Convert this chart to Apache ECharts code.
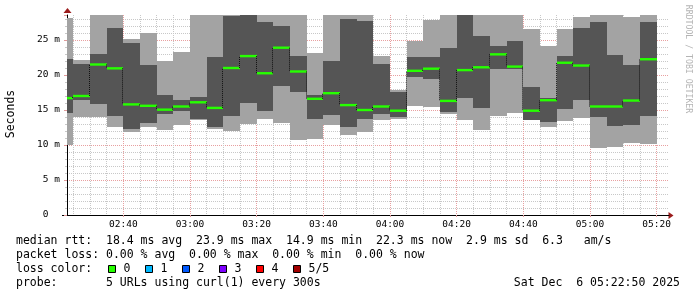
<!DOCTYPE html>
<html><head><meta charset="utf-8">
<script src="https://cdn.jsdelivr.net/npm/echarts@6/dist/echarts.min.js"></script>
<style>html,body{margin:0;padding:0;background:#fff}#c{width:697px;height:297px}</style>
</head><body><div id="c"></div>
<script>
// ---- data ----
const stepEnd = ["02:25","02:30","02:35","02:40","02:45","02:50","02:55","03:00","03:05","03:10",
  "03:15","03:20","03:25","03:30","03:35","03:40","03:45","03:50","03:55","04:00",
  "04:05","04:10","04:15","04:20","04:25","04:30","04:35","04:40","04:45","04:50",
  "04:55","05:00","05:05","05:10","05:15","05:20"];
const pingMin = [10.0,14.05,14.05,12.6,11.9,12.6,12.1,12.9,13.6,12.3,
  12.05,13.0,13.7,13.1,10.7,10.8,12.9,11.45,11.9,13.5,
  13.75,15.6,15.4,14.4,13.55,12.15,14.15,14.6,13.55,12.6,
  13.45,13.9,9.5,9.75,10.3,10.15];
const ping2 = [14.6,16.4,15.9,14.1,12.3,13.1,14.4,14.9,13.7,12.6,
  14.1,15.95,14.9,18.4,17.5,13.7,14.3,12.6,13.65,14.4,
  13.95,19.75,19.4,14.7,16.75,15.3,20.8,20.9,13.6,13.3,
  15.15,16.4,14.05,12.75,12.9,14.15];
const median = [16.7,17.0,21.5,20.95,15.8,15.6,15.05,15.5,16.1,15.3,
  21.0,22.7,20.25,23.9,20.5,16.6,17.4,15.7,15.0,15.5,
  14.9,20.6,20.9,16.3,20.7,21.1,22.95,21.2,14.9,16.4,
  21.75,21.35,15.5,15.5,16.35,22.25];
const ping4 = [22.3,21.6,23.0,26.7,24.6,21.4,17.1,16.4,16.8,22.6,
  28.4,29.5,27.5,27.05,22.7,17.1,22.0,28.0,27.7,21.6,
  17.5,22.6,22.6,23.9,29.5,25.6,24.15,24.85,18.3,16.75,
  22.7,26.75,27.6,22.9,21.4,27.6];
const pingMax = [28.2,22.1,30,30,25.1,26.0,22.0,23.3,30,30,
  30,31,30,30,30,23.2,30,30,30,22.7,
  17.9,24.9,27.9,30,31,30,30,30,26.6,24.2,
  26.6,28.25,30,30,28.3,30];
const xTickLabels = ["02:40","03:00","03:20","03:40","04:00","04:20","04:40","05:00","05:20"];
const yTickLabels = ["0  ","5 m","10 m","15 m","20 m","25 m"];
const lossLabels = ["0","1","2","3","4","5/5"];
const lossColors = ["#26ff00","#00b8ff","#0059ff","#7e00ff","#ff0000","#a10000"];
const legendLines = [
  "median rtt:  18.4 ms avg  23.9 ms max  14.9 ms min  22.3 ms now  2.9 ms sd  6.3   am/s",
  "packet loss: 0.00 % avg  0.00 % max  0.00 % min  0.00 % now",
  "loss color:",
  "probe:       5 URLs using curl(1) every 300s"
];
const dateText = "Sat Dec  6 05:22:50 2025";

// ---- helpers ----
const MONO = "'DejaVu Sans Mono', monospace";
const toMin = s => { const [h, m] = s.split(':').map(Number); return h * 60 + m; };
const STEP = 5;
const rows = stepEnd.map((t, i) => [toMin(t), pingMin[i], ping2[i], median[i], ping4[i], pingMax[i],
  i > 0 ? median[i - 1] : median[i]]);

function clip(r, cs) {
  return echarts.graphic.clipRectByRect(r, {x: cs.x, y: cs.y, width: cs.width, height: cs.height});
}
function bandRect(api, cs, t0, t1, lo, hi) {
  const a = api.coord([t0, hi]), b = api.coord([t1, lo]);
  const x0 = Math.round(a[0]), x1 = Math.round(b[0]);
  const y0 = Math.round(a[1]), y1 = Math.round(b[1]);
  return clip({x: x0, y: y0, width: x1 - x0, height: y1 - y0}, cs);
}
function renderSmoke(params, api) {
  const cs = params.coordSys;
  const t1 = api.value(0), t0 = t1 - STEP;
  const outer = bandRect(api, cs, t0, t1, api.value(1), api.value(5));
  const inner = bandRect(api, cs, t0, t1, api.value(2), api.value(4));
  const ch = [];
  if (outer) ch.push({type: 'rect', shape: outer, style: {fill: '#a3a3a3'}});
  if (inner) ch.push({type: 'rect', shape: inner, style: {fill: '#555555'}});
  return {type: 'group', children: ch};
}
function renderMedian(params, api) {
  const cs = params.coordSys;
  const t1 = api.value(0), t0 = t1 - STEP;
  const a = api.coord([t0, api.value(3)]), b = api.coord([t1, api.value(3)]);
  const p = api.coord([t0, api.value(6)]);
  const x0 = Math.max(Math.round(a[0]), cs.x), x1 = Math.round(b[0]);
  const ch = [];
  if (params.dataIndex > 0) {
    ch.push({type: 'line', shape: {x1: x0 - 0.5, y1: p[1], x2: x0 - 0.5, y2: a[1]},
      style: {stroke: '#111', lineWidth: 1, lineDash: [1, 1]}});
  }
  ch.push({type: 'rect', shape: {x: x0, y: a[1] - 1.2, width: x1 - x0, height: 2.4},
    style: {fill: lossColors[0]}});
  return {type: 'group', children: ch};
}

const fmtX = v => {
  const k = (v - 160) / 20;
  return Number.isInteger(k) && k >= 0 && k < xTickLabels.length ? xTickLabels[k] : '';
};
const fmtY = v => {
  const k = v / 5;
  return Number.isInteger(k) && k < yTickLabels.length ? yTickLabels[k] : '';
};

const graphics = [];
graphics.push({type: 'text', x: 11, y: 114, rotation: Math.PI / 2,
  style: {text: 'Seconds', fill: '#000', fontSize: 11.5, fontFamily: MONO, align: 'center', verticalAlign: 'middle'}});
graphics.push({type: 'text', x: 688, y: 59, rotation: -Math.PI / 2,
  style: {text: 'RRDTOOL / TOBI OETIKER', fill: '#b4b4b4', fontSize: 8.2, fontFamily: MONO, align: 'center', verticalAlign: 'middle'}});
const lineY = [241, 255, 269, 283];
legendLines.forEach((s, i) => graphics.push({type: 'text', x: 16, y: lineY[i],
  style: {text: s, fill: '#000', fontSize: 11.5, fontFamily: MONO, align: 'left', verticalAlign: 'middle'}}));
graphics.push({type: 'text', x: 680, y: lineY[3],
  style: {text: dateText, fill: '#000', fontSize: 11.5, fontFamily: MONO, align: 'right', verticalAlign: 'middle'}});
lossColors.forEach((c, i) => {
  const bx = 108.5 + 37 * i;
  graphics.push({type: 'rect', shape: {x: bx, y: 265.5, width: 7, height: 7}, style: {fill: c, stroke: '#000', lineWidth: 1}});
  graphics.push({type: 'text', x: bx + 15, y: lineY[2],
    style: {text: lossLabels[i], fill: '#000', fontSize: 11.5, fontFamily: MONO, align: 'left', verticalAlign: 'middle'}});
});
// axis arrows and left extension of the x axis
graphics.push({type: 'polygon', shape: {points: [[668.5, 212], [673.5, 215.5], [668.5, 219]]}, style: {fill: '#9b1c1c'}});
graphics.push({type: 'polygon', shape: {points: [[63.5, 13], [67.5, 8], [71.5, 13]]}, style: {fill: '#9b1c1c'}});
graphics.push({type: 'line', shape: {x1: 62, y1: 215.5, x2: 67, y2: 215.5}, style: {stroke: '#000', lineWidth: 1}});

const chart = echarts.init(document.getElementById('c'), null, {renderer: 'canvas'});
chart.setOption({
  animation: false,
  backgroundColor: '#fff',
  grid: {left: 67, right: 28, top: 15, bottom: 82, containLabel: false},
  xAxis: {
    type: 'value', min: 143.1, max: 323.7, splitNumber: 9, minInterval: 20, maxInterval: 20,
    axisLine: {show: true, onZero: false, lineStyle: {color: '#000', width: 1}},
    axisTick: {show: true, length: 2, inside: false, lineStyle: {color: '#e09a9a'}},
    minorTick: {show: false, splitNumber: 4},
    axisLabel: {formatter: fmtX, showMinLabel: false, showMaxLabel: false, color: '#000',
      fontFamily: MONO, fontSize: 9.5, margin: 5},
    splitLine: {show: true, showMinLine: false, showMaxLine: false,
      lineStyle: {color: '#e8a0a0', width: 1, type: [1, 1]}},
    minorSplitLine: {show: true, lineStyle: {color: '#c8c8c8', width: 1, type: [1, 1]}}
  },
  yAxis: {
    type: 'value', min: 0, max: 28.57, interval: 5,
    axisLine: {show: true, onZero: false, lineStyle: {color: '#000', width: 1}},
    axisTick: {show: true, length: 3, lineStyle: {color: '#e09a9a'}},
    minorTick: {show: true, splitNumber: 5, length: 2, lineStyle: {color: '#c8c8c8'}},
    axisLabel: {formatter: fmtY, showMaxLabel: false, color: '#000', fontFamily: MONO, fontSize: 9.5, margin: 7},
    splitLine: {show: true, showMinLine: false, showMaxLine: false,
      lineStyle: {color: '#e8a0a0', width: 1, type: [1, 1]}},
    minorSplitLine: {show: true, lineStyle: {color: '#c8c8c8', width: 1, type: [1, 1]}}
  },
  series: [
    {type: 'custom', renderItem: renderSmoke, data: rows, encode: {x: 0, y: [1, 5]}, silent: true},
    {type: 'custom', renderItem: renderMedian, data: rows, encode: {x: 0, y: 3}, silent: true}
  ],
  graphic: graphics
});
</script></body></html>
